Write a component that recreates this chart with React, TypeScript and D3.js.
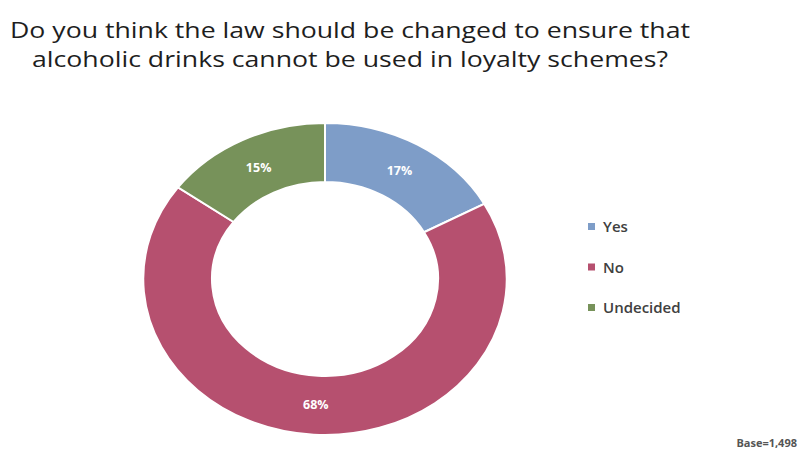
import React from "react";
import * as d3 from "d3";

const categories = ["Yes", "No", "Undecided"];
const values = [17, 68, 15];
const colors = ["#7e9dc8", "#b6506f", "#77925a"];
const titleLines = [
  "Do you think the law should be changed to ensure that",
  "alcoholic drinks cannot be used in loyalty schemes?",
];
const baseNote = "Base=1,498";

export default function App() {
  const W = 800, H = 452;
  const cx = 325, cy = 279;
  const R = 156, r = 97;
  const sx = 1.165;
  const pie = d3.pie<number>().sort(null).value((d) => d)(values);
  const arc = d3.arc<d3.PieArcDatum<number>>().innerRadius(r).outerRadius(R);
  const labelArc = d3.arc<d3.PieArcDatum<number>>().innerRadius((R + r) / 2 - 1).outerRadius((R + r) / 2 - 1);
  const legendY = d3.scalePoint<string>().domain(categories).range([227, 308]);
  const font = "'Open Sans', 'Noto Sans', sans-serif";
  return (
    <svg width={W} height={H} style={{ position: "absolute", left: 0, top: 0, background: "#fff" }}>
      <g fontFamily={font} fill="#1e1e1e" fontSize={22} fontWeight={500}>
        <text x={350} y={38} textAnchor="middle" textLength={680} lengthAdjust="spacingAndGlyphs">{titleLines[0]}</text>
        <text x={350} y={67} textAnchor="middle" textLength={636} lengthAdjust="spacingAndGlyphs">{titleLines[1]}</text>
      </g>
      <g transform={`translate(${cx},${cy}) scale(${sx},1)`}>
        {pie.map((p, i) => (
          <path key={i} d={arc(p) || ""} fill={colors[i]} stroke="#fff" strokeWidth={2} vectorEffect="non-scaling-stroke" />
        ))}
      </g>
      <g fontFamily={font} fontSize={12.5} fontWeight={700} fill="#fff" textAnchor="middle">
        {pie.map((p, i) => {
          const [x, y] = labelArc.centroid(p);
          return (
            <text key={i} x={cx + x * sx} y={cy + y} dy="0.35em">{values[i]}%</text>
          );
        })}
      </g>
      <g fontFamily={font} fontSize={15} fontWeight={600} fill="#404040">
        {categories.map((c, i) => (
          <g key={c} transform={`translate(588,${legendY(c)})`}>
            <rect x={0} y={-4} width={7} height={7} fill={colors[i]} />
            <text x={15} y={0} dy="0.35em">{c}</text>
          </g>
        ))}
      </g>
      <text x={797} y={447} textAnchor="end" fontFamily={font} fontSize={11} fontWeight={700} fill="#555">{baseNote}</text>
    </svg>
  );
}
